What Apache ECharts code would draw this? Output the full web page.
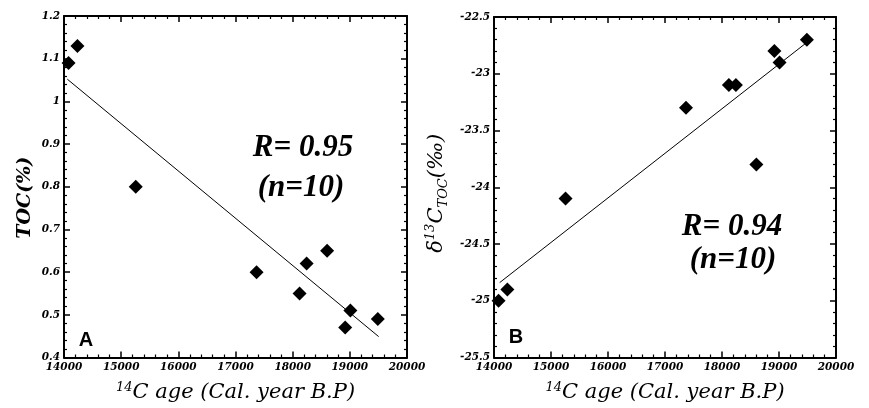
<!DOCTYPE html>
<html>
<head>
<meta charset="utf-8">
<script src="https://cdn.jsdelivr.net/npm/echarts@6/dist/echarts.min.js"></script>
<style>
  html, body { margin: 0; padding: 0; background: #fff; }
  #chart { width: 869px; height: 408px; }
</style>
</head>
<body>
<div id="chart"></div>
<script>
// Sample ages (14C, cal. yr B.P.) shared by both panels
const ages = [14080, 14235, 15255, 17368, 18121, 18244, 18603, 18919, 19010, 19489];
// Panel A: total organic carbon (%)
const toc = [1.09, 1.13, 0.80, 0.60, 0.55, 0.62, 0.65, 0.47, 0.51, 0.49];
// Panel B: delta 13C of TOC (permil)
const d13c = [-25.0, -24.9, -24.1, -23.3, -23.1, -23.1, -23.8, -22.8, -22.9, -22.7];
// Regression line end points
const tocFit = [[14058, 1.052], [19504, 0.449]];
const d13cFit = [[14100, -24.84], [19473, -22.73]];
// Axis ranges
const ageRange = [14000, 20000, 1000];
const tocRange = [0.4, 1.2, 0.1];
const d13cRange = [-25.5, -22.5, 0.5];
// Statistics annotations
const statsA = ['R= 0.95', '(n=10)'];
const statsB = ['R= 0.94', '(n=10)'];

const serif = '"Liberation Serif", "DejaVu Serif", serif';
const wideSerif = '"DejaVu Serif", "Liberation Serif", serif';
const tickLabel = {
  fontFamily: wideSerif, fontStyle: 'italic', fontWeight: 'bold', fontSize: 10.5, color: '#000'
};

function pts(xs, ys) { return xs.map((x, i) => [x, ys[i]]); }

function frameAxis(type, gridIndex, range, position, showLabel, extra) {
  return Object.assign({
    type: 'value', gridIndex, position,
    min: range[0], max: range[1], interval: range[2],
    axisLine: { show: true, onZero: false, lineStyle: { color: '#000', width: 2 } },
    axisTick: { show: true, inside: true, length: 6, lineStyle: { color: '#000', width: 1.5 } },
    minorTick: { show: true, splitNumber: 5, length: 3, lineStyle: { color: '#000', width: 1.2 } },
    splitLine: { show: false },
    minorSplitLine: { show: false },
    axisLabel: showLabel ? Object.assign({ margin: 4, formatter: v => String(+v.toFixed(2)) }, tickLabel) : { show: false }
  }, extra || {});
}

const xName = {
  name: '{sup|14}{t|C age (Cal. year B.P)}',
  nameLocation: 'middle', nameGap: 24,
  nameTextStyle: {
    rich: {
      sup: { fontFamily: wideSerif, fontStyle: 'italic', fontSize: 13, verticalAlign: 'top', color: '#000', lineHeight: 22 },
      t: { fontFamily: wideSerif, fontStyle: 'italic', fontSize: 21, color: '#000', lineHeight: 22 }
    }
  }
};

const option = {
  animation: false,
  backgroundColor: '#fff',
  grid: [
    { left: 64, top: 16, width: 343, height: 343, show: false },
    { left: 494, top: 17, width: 342, height: 341, show: false }
  ],
  xAxis: [
    frameAxis('x', 0, ageRange, 'bottom', true, xName),
    frameAxis('x', 0, ageRange, 'top', false),
    frameAxis('x', 1, ageRange, 'bottom', true, xName),
    frameAxis('x', 1, ageRange, 'top', false)
  ],
  yAxis: [
    frameAxis('y', 0, tocRange, 'left', true, {
      name: 'TOC(%)', nameLocation: 'middle', nameGap: 29,
      nameTextStyle: { fontFamily: wideSerif, fontStyle: 'italic', fontWeight: 'bold', fontSize: 19, color: '#000', padding: [0, 22, 0, 0] }
    }),
    frameAxis('y', 0, tocRange, 'right', false),
    frameAxis('y', 1, d13cRange, 'left', true, {
      name: '{t|δ}{sup|13}{t|C}{sub|TOC}{t|(‰)}', nameLocation: 'middle', nameGap: 44,
      nameTextStyle: {
        padding: [0, 12, 0, 0],
        rich: {
          t: { fontFamily: wideSerif, fontStyle: 'italic', fontSize: 21, color: '#000', lineHeight: 26 },
          sup: { fontFamily: wideSerif, fontStyle: 'italic', fontSize: 13, verticalAlign: 'top', color: '#000', lineHeight: 26 },
          sub: { fontFamily: wideSerif, fontStyle: 'italic', fontSize: 13, verticalAlign: 'bottom', color: '#000', lineHeight: 26 }
        }
      }
    }),
    frameAxis('y', 1, d13cRange, 'right', false)
  ],
  series: [
    {
      type: 'line', xAxisIndex: 0, yAxisIndex: 0, data: tocFit,
      showSymbol: false, lineStyle: { color: '#000', width: 1 }, z: 2
    },
    {
      type: 'scatter', xAxisIndex: 0, yAxisIndex: 0, data: pts(ages, toc),
      symbol: 'diamond', symbolSize: 14, itemStyle: { color: '#000', opacity: 1 }, z: 3
    },
    {
      type: 'line', xAxisIndex: 2, yAxisIndex: 2, data: d13cFit,
      showSymbol: false, lineStyle: { color: '#000', width: 1 }, z: 2
    },
    {
      type: 'scatter', xAxisIndex: 2, yAxisIndex: 2, data: pts(ages, d13c),
      symbol: 'diamond', symbolSize: 14, itemStyle: { color: '#000', opacity: 1 }, z: 3
    }
  ],
  graphic: [
    { type: 'text', x: 303, y: 148, style: { text: statsA[0], font: 'italic bold 31px ' + serif, fill: '#000', align: 'center', verticalAlign: 'middle' } },
    { type: 'text', x: 301, y: 188, style: { text: statsA[1], font: 'italic bold 31px ' + serif, fill: '#000', align: 'center', verticalAlign: 'middle' } },
    { type: 'text', x: 732, y: 227, style: { text: statsB[0], font: 'italic bold 31px ' + serif, fill: '#000', align: 'center', verticalAlign: 'middle' } },
    { type: 'text', x: 733, y: 260, style: { text: statsB[1], font: 'italic bold 31px ' + serif, fill: '#000', align: 'center', verticalAlign: 'middle' } },
    { type: 'text', x: 86, y: 340, style: { text: 'A', font: 'bold 20px "Liberation Sans", Arial, sans-serif', fill: '#000', align: 'center', verticalAlign: 'middle' } },
    { type: 'text', x: 516, y: 337, style: { text: 'B', font: 'bold 20px "Liberation Sans", Arial, sans-serif', fill: '#000', align: 'center', verticalAlign: 'middle' } }
  ]
};

const chart = echarts.init(document.getElementById('chart'), null, { renderer: 'canvas' });
chart.setOption(option);
</script>
</body>
</html>
